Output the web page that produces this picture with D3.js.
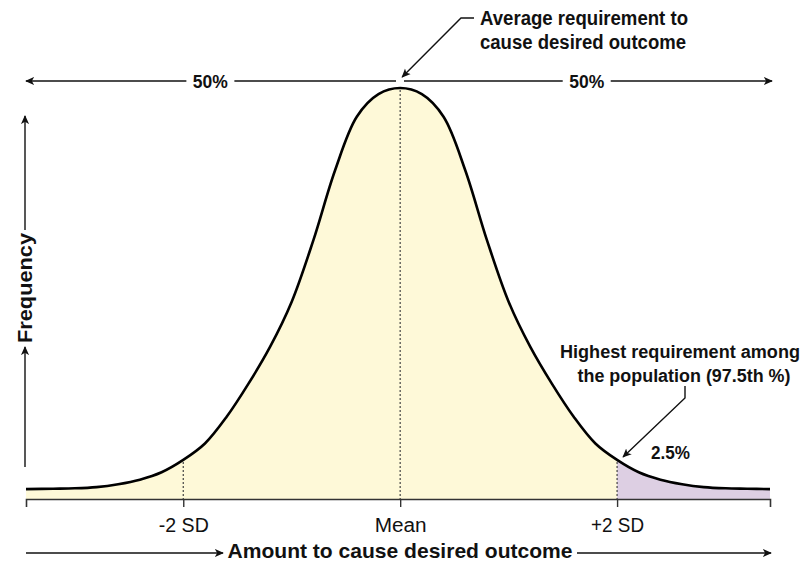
<!DOCTYPE html>
<html>
<head>
<meta charset="utf-8">
<script src="https://cdn.jsdelivr.net/npm/d3@7"></script>
<style>
  body { margin: 0; background: #fff; }
  text { font-family: "Liberation Sans Narrow", "Arial Narrow", "Liberation Sans", Arial, sans-serif; fill: #111; }
  .bold { font-weight: bold; }
</style>
</head>
<body>
<svg width="809" height="567"></svg>
<script>
// curve: position in SD units, relative frequency (peak = 1)
const sdUnits = [-3.45, -3.2, -3.0, -2.8, -2.6, -2.4, -2.2, -2.0, -1.8, -1.6, -1.4, -1.2, -1.0, -0.8, -0.6, -0.4, -0.2, 0,
                 0.2, 0.4, 0.6, 0.8, 1.0, 1.2, 1.4, 1.6, 1.8, 2.0, 2.2, 2.4, 2.6, 2.8, 3.0, 3.2, 3.41];
const frequency = [0.024, 0.025, 0.026, 0.029, 0.036, 0.047, 0.065, 0.095, 0.135, 0.20, 0.28, 0.37, 0.48, 0.63, 0.80, 0.93, 0.985, 1.0,
                   0.985, 0.93, 0.80, 0.63, 0.48, 0.37, 0.28, 0.20, 0.135, 0.095, 0.065, 0.047, 0.036, 0.029, 0.026, 0.025, 0.024];
const tickValues = [-2, 0, 2];
const tickLabels = ["-2 SD", "Mean", "+2 SD"];
const tailStart = 2;   // shaded upper tail (2.5%)

const svg = d3.select("svg");

const x = d3.scaleLinear().domain([-3.45, 3.41]).range([26, 770]);
const y = d3.scaleLinear().domain([0, 1]).range([499, 88]);

const points = sdUnits.map((d, i) => ({sd: d, f: frequency[i]}));
const freqAt = v => frequency[sdUnits.indexOf(v)];

// the original uses a condensed face, so squeeze text to its measured width
function fit(sel, w) {
  sel.attr("textLength", w).attr("lengthAdjust", "spacingAndGlyphs");
}

const defs = svg.append("defs");
defs.append("marker")
    .attr("id", "arrow")
    .attr("viewBox", "0 0 10 10")
    .attr("refX", 9).attr("refY", 5)
    .attr("markerWidth", 9).attr("markerHeight", 9)
    .attr("markerUnits", "userSpaceOnUse")
    .attr("orient", "auto-start-reverse")
  .append("path")
    .attr("d", "M0,0.5 L10,5 L0,9.5 L2.5,5 Z")
    .attr("fill", "#111");

defs.append("clipPath").attr("id", "tail")
  .append("rect")
    .attr("x", x(tailStart)).attr("y", 0)
    .attr("width", 809 - x(tailStart)).attr("height", 567);

const area = d3.area()
    .x(d => x(d.sd))
    .y0(y(0))
    .y1(d => y(d.f))
    .curve(d3.curveCatmullRom.alpha(0.5));

const line = d3.line()
    .x(d => x(d.sd))
    .y(d => y(d.f))
    .curve(d3.curveCatmullRom.alpha(0.5));

svg.append("path")
    .datum(points)
    .attr("d", area)
    .attr("fill", "#fef9d8");

svg.append("path")
    .datum(points)
    .attr("d", area)
    .attr("fill", "#ddcfe3")
    .attr("clip-path", "url(#tail)");

// dotted guides under the curve
svg.append("g")
  .selectAll("line")
  .data(tickValues)
  .enter().append("line")
    .attr("x1", d => x(d)).attr("x2", d => x(d))
    .attr("y1", d => y(freqAt(d)) + 2)
    .attr("y2", y(0))
    .attr("stroke", "#444")
    .attr("stroke-width", 1.2)
    .attr("stroke-dasharray", "2,2");

svg.append("path")
    .datum(points)
    .attr("d", line)
    .attr("fill", "none")
    .attr("stroke", "#000")
    .attr("stroke-width", 2.6);

// x axis
const xAxis = d3.axisBottom(x)
    .tickValues(tickValues)
    .tickFormat((d, i) => tickLabels[i])
    .tickSizeOuter(0)
    .tickSize(8)
    .tickPadding(11);

const axisG = svg.append("g")
    .attr("transform", `translate(0,${y(0)})`)
    .call(xAxis);
axisG.select(".domain").attr("stroke", "#333").attr("stroke-width", 1.6);
axisG.selectAll(".tick line").attr("stroke", "#333").attr("stroke-width", 1.4);
const tickWidths = [50, 52, 53];
axisG.selectAll(".tick text")
    .attr("font-size", 20)
    .attr("font-family", null)
    .attr("fill", "#111")
    .each(function(d, i) { fit(d3.select(this), tickWidths[i]); });

// bottom title with arrows
svg.append("text")
    .attr("class", "bold")
    .attr("x", 400).attr("y", 558)
    .attr("text-anchor", "middle")
    .attr("font-size", 21)
    .text("Amount to cause desired outcome")
    .call(fit, 345);

svg.append("line")
    .attr("x1", 26).attr("y1", 553).attr("x2", 223).attr("y2", 553)
    .attr("stroke", "#111").attr("stroke-width", 1.4)
    .attr("marker-end", "url(#arrow)");
svg.append("line")
    .attr("x1", 577).attr("y1", 553).attr("x2", 771).attr("y2", 553)
    .attr("stroke", "#111").attr("stroke-width", 1.4)
    .attr("marker-end", "url(#arrow)");

// y axis label with arrows
svg.append("text")
    .attr("class", "bold")
    .attr("transform", "translate(32,288) rotate(-90)")
    .attr("text-anchor", "middle")
    .attr("font-size", 20)
    .text("Frequency")
    .call(fit, 110);

svg.append("line")
    .attr("x1", 25).attr("y1", 467).attr("x2", 25).attr("y2", 347)
    .attr("stroke", "#111").attr("stroke-width", 1.4)
    .attr("marker-end", "url(#arrow)");
svg.append("line")
    .attr("x1", 25).attr("y1", 230).attr("x2", 25).attr("y2", 116)
    .attr("stroke", "#111").attr("stroke-width", 1.4)
    .attr("marker-end", "url(#arrow)");

// 50% / 50% line across the top
svg.append("line")
    .attr("x1", 396).attr("y1", 81).attr("x2", 26).attr("y2", 81)
    .attr("stroke", "#111").attr("stroke-width", 1.4)
    .attr("marker-end", "url(#arrow)");
svg.append("line")
    .attr("x1", 404).attr("y1", 81).attr("x2", 772).attr("y2", 81)
    .attr("stroke", "#111").attr("stroke-width", 1.4)
    .attr("marker-end", "url(#arrow)");

[x(-1.75), x(1.72)].forEach(px => {
  svg.append("rect")
      .attr("x", px - 24).attr("y", 72)
      .attr("width", 48).attr("height", 18)
      .attr("fill", "#fff");
  svg.append("text")
      .attr("class", "bold")
      .attr("x", px).attr("y", 88)
      .attr("text-anchor", "middle")
      .attr("font-size", 18)
      .text("50%")
      .call(fit, 35);
});

// mean annotation
svg.append("polyline")
    .attr("points", `474,18 461,18 ${x(0) + 2},77`)
    .attr("fill", "none")
    .attr("stroke", "#111").attr("stroke-width", 1.4)
    .attr("marker-end", "url(#arrow)");

svg.append("text")
    .attr("class", "bold")
    .attr("x", 480).attr("y", 25)
    .attr("font-size", 20)
    .text("Average requirement to")
    .call(fit, 208);
svg.append("text")
    .attr("class", "bold")
    .attr("x", 480).attr("y", 49)
    .attr("font-size", 20)
    .text("cause desired outcome")
    .call(fit, 206);

// upper tail annotation
svg.append("text")
    .attr("class", "bold")
    .attr("x", 680).attr("y", 358)
    .attr("text-anchor", "middle")
    .attr("font-size", 18)
    .text("Highest requirement among")
    .call(fit, 240);
svg.append("text")
    .attr("class", "bold")
    .attr("x", 684).attr("y", 382)
    .attr("text-anchor", "middle")
    .attr("font-size", 18)
    .text("the population (97.5th %)")
    .call(fit, 213);

svg.append("polyline")
    .attr("points", `685,386 685,398 ${x(tailStart) + 6},${y(freqAt(tailStart)) - 3}`)
    .attr("fill", "none")
    .attr("stroke", "#111").attr("stroke-width", 1.4)
    .attr("marker-end", "url(#arrow)");

svg.append("text")
    .attr("class", "bold")
    .attr("x", 651).attr("y", 459)
    .attr("font-size", 18)
    .text("2.5%")
    .call(fit, 39);
</script>
</body>
</html>
